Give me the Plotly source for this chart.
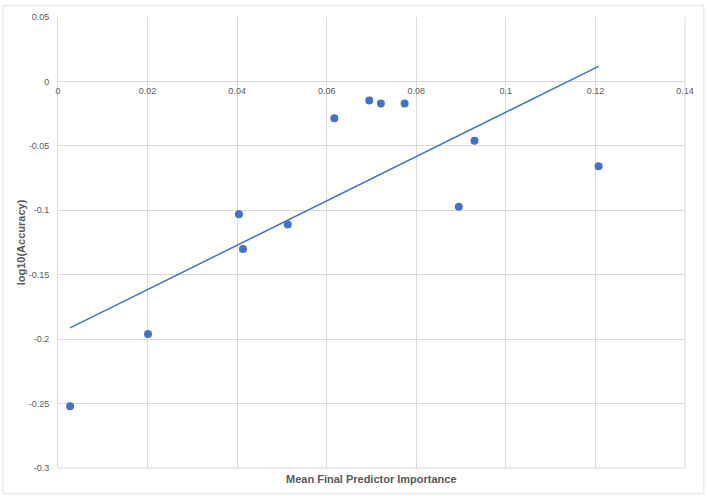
import numpy as np
import plotly.graph_objects as go

importance = [0.0027, 0.0201, 0.0404, 0.0413, 0.0513, 0.0617, 0.0695, 0.0721, 0.0774, 0.0895, 0.0930, 0.1207]
log_acc = [-0.252, -0.196, -0.103, -0.130, -0.111, -0.0286, -0.0148, -0.0171, -0.0171, -0.0973, -0.046, -0.0658]

x_ticks = [0, 0.02, 0.04, 0.06, 0.08, 0.1, 0.12, 0.14]
x_labels = ["0", "0.02", "0.04", "0.06", "0.08", "0.1", "0.12", "0.14"]
y_ticks = [0.05, 0, -0.05, -0.1, -0.15, -0.2, -0.25, -0.3]
y_labels = ["0.05", "0", "-0.05", "-0.1", "-0.15", "-0.2", "-0.25", "-0.3"]

x_range = [0, 0.14]
y_range = [-0.3, 0.05]

slope, intercept = np.polyfit(importance, log_acc, 1)
tx = [min(importance), max(importance)]
ty = [slope * v + intercept for v in tx]

blue = "#4472C4"
grid = "#d9d9d9"
txt = "#595959"

fig = go.Figure()
fig.add_trace(go.Scatter(x=tx, y=ty, mode="lines", line=dict(color=blue, width=1.5),
                         hoverinfo="skip", showlegend=False))
fig.add_trace(go.Scatter(x=importance, y=log_acc, mode="markers",
                         marker=dict(color=blue, size=8, line=dict(width=0)),
                         showlegend=False))

zero_pos = (0 - y_range[0]) / (y_range[1] - y_range[0])

fig.update_layout(
    width=708, height=496,
    margin=dict(l=58, r=23, t=14, b=28),
    paper_bgcolor="white", plot_bgcolor="white",
    font=dict(family="Liberation Sans, Arial, sans-serif", color=txt, size=10),
    xaxis=dict(range=x_range, tickvals=x_ticks, ticktext=x_labels,
               showgrid=True, gridcolor=grid, gridwidth=1, zeroline=False,
               showline=False, ticks="", anchor="free", position=zero_pos,
               ticklabelstandoff=3,
               tickfont=dict(size=9, color=txt)),
    yaxis=dict(range=y_range, tickvals=y_ticks, ticktext=y_labels,
               showgrid=True, gridcolor=grid, gridwidth=1, zeroline=True,
               zerolinecolor=grid, zerolinewidth=1,
               showline=True, linecolor=grid, linewidth=1, ticks="",
               tickfont=dict(size=9, color=txt), ticklabelstandoff=6,
               title=dict(text="<b>log10(Accuracy)</b>", font=dict(size=11, color=txt), standoff=0)),
    annotations=[dict(text="<b>Mean Final Predictor Importance</b>", xref="paper", yref="paper",
                      x=0.5, y=-0.006, xanchor="center", yanchor="top", showarrow=False,
                      font=dict(size=11, color=txt))],
    shapes=[
        dict(type="line", xref="paper", yref="paper", x0=0, x1=1, y0=0, y1=0,
             line=dict(color=grid, width=1)),
        dict(type="line", xref="paper", yref="paper", x0=1, x1=1, y0=0, y1=1,
             line=dict(color=grid, width=1)),
        dict(type="rect", xref="paper", yref="paper", x0=-0.0877, x1=1.03, y0=-0.0573, y1=1.026,
             line=dict(color="#e0e0e0", width=1), layer="below"),
    ],
)

fig.write_html("out.html", config={"displayModeBar": False},
               post_script="document.body.style.margin='0';")
